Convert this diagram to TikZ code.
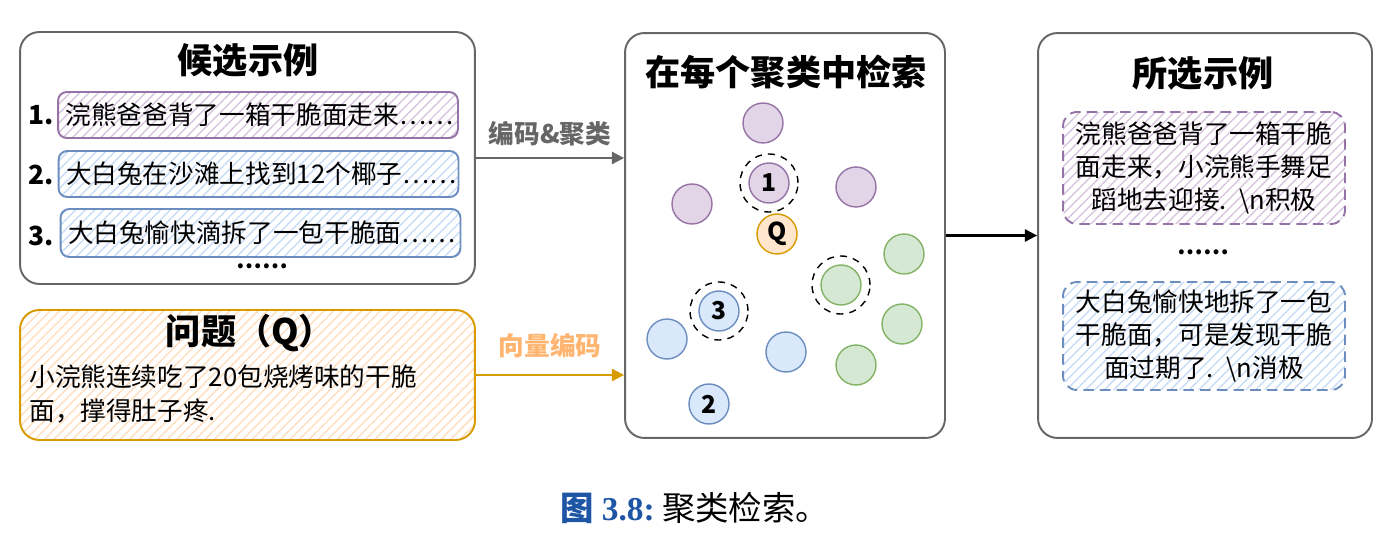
\documentclass[tikz,border=0pt]{standalone}
\usepackage{fontspec}
\setmainfont{Noto Sans CJK SC}
\newfontfamily\capserif{Liberation Serif}
\usepackage{xcolor}
\definecolor{pgray}{RGB}{102,102,102}
\definecolor{ppurple}{RGB}{150,115,166}
\definecolor{fpurple}{RGB}{215,198,223}
\definecolor{pblue}{RGB}{108,142,191}
\definecolor{fblue}{RGB}{200,220,248}
\definecolor{dpurple}{RGB}{225,213,231}
\definecolor{dblue}{RGB}{218,232,252}
\definecolor{pgreen}{RGB}{130,179,102}
\definecolor{fgreen}{RGB}{213,232,212}
\definecolor{porange}{RGB}{215,155,0}
\definecolor{forange}{RGB}{255,222,190}
\definecolor{dorange}{RGB}{255,230,204}
\definecolor{lorange}{RGB}{255,181,112}
\definecolor{capblue}{RGB}{30,85,165}
\usetikzlibrary{arrows.meta, positioning, patterns.meta}

\begin{document}
\begin{tikzpicture}[x=0.02cm, y=-0.02cm,
  panel/.style={draw=pgray, line width=1.1pt, rounded corners=11pt, inner sep=0pt},
  hatch/.style={pattern={Lines[angle=45, distance=3.8pt, line width=0.8pt]}, pattern color=#1},
  itembox/.style={line width=1.1pt, rounded corners=5pt, minimum width=8cm, minimum height=0.92cm,
    text width=7.7cm, align=left, font=\fontsize{14.6}{19}\selectfont, inner sep=0pt},
  selbox/.style={line width=1.1pt, rounded corners=8pt, dash pattern=on 6pt off 3.5pt, minimum width=5.64cm,
    text width=5.4cm, align=center, font=\fontsize{14.6}{19}\selectfont, inner sep=0pt},
  ttl/.style={font=\fontsize{20}{24}\selectfont\bfseries},
  dot/.style={circle, minimum size=0.8cm, inner sep=0pt, line width=0.8pt, font=\fontsize{14}{16}\selectfont\bfseries},
  ring/.style={circle, draw=black, minimum size=1.16cm, dash pattern=on 4pt off 3.5pt, line width=0.8pt},
  link/.style={line width=1.2pt, -{Triangle[length=7pt, width=7pt]}}]
  \useasboundingbox (0,0) rectangle (1388,550);

  % --- Left: candidate examples ---
  \node[panel, minimum width=9.1cm, minimum height=5.04cm] (cand) at (247.5,158) {};
  \node[ttl] (candtitle) at (248,60) {候选示例};
  \node[itembox, draw=ppurple, hatch=fpurple] (ex1) at (258,115) {浣熊爸爸背了一箱干脆面走来……};
  \node[itembox, draw=pblue, hatch=fblue] (ex2) at (258.5,174) {大白兔在沙滩上找到12个椰子……};
  \node[itembox, draw=pblue, hatch=fblue, minimum height=0.96cm] (ex3) at (260.5,233) {大白兔愉快滴拆了一包干脆面……};
  \node[font=\fontsize{15}{18}\selectfont\bfseries] (n1) at (41,115) {1.};
  \node[font=\fontsize{15}{18}\selectfont\bfseries] (n2) at (41,175) {2.};
  \node[font=\fontsize{15}{18}\selectfont\bfseries] (n3) at (41,236) {3.};
  \node[font=\fontsize{13}{14}\selectfont\bfseries, inner sep=0pt] (candmore) at (262,266) {……};

  % --- Left: question ---
  \node[panel, draw=porange, hatch=forange, minimum width=9.1cm, minimum height=2.6cm] (ques) at (247.5,375) {};
  \node[ttl] (questitle) at (250,333) {问题（Q）};
  \node[anchor=west, align=left, inner sep=0pt, font=\fontsize{14.6}{19}\selectfont] (questext) at (29,394)
    {小浣熊连续吃了20包烧烤味的干脆\\面，撑得肚子疼.};

  % --- Middle: search in each cluster ---
  \node[panel, minimum width=6.4cm, minimum height=8.1cm] (mid) at (785,235.5) {};
  \node[ttl] (midtitle) at (786,72) {在每个聚类中检索};
  % purple cluster
  \node[dot, draw=ppurple, fill=dpurple] (p1) at (763,123) {};
  \node[dot, draw=ppurple, fill=dpurple] (p2) at (692,204) {};
  \node[dot, draw=ppurple, fill=dpurple] (p3) at (856,187) {};
  \node[dot, draw=ppurple, fill=dpurple] (c1) at (769,183) {1};
  \node[ring] (r1) at (c1) {};
  % query
  \node[dot, draw=porange, fill=dorange] (q) at (777,234) {Q};
  % green cluster
  \node[dot, draw=pgreen, fill=fgreen] (g1) at (904,254) {};
  \node[dot, draw=pgreen, fill=fgreen] (g2) at (841,285) {};
  \node[ring] (r2) at (g2) {};
  \node[dot, draw=pgreen, fill=fgreen] (g3) at (902,324) {};
  \node[dot, draw=pgreen, fill=fgreen] (g4) at (856,365) {};
  % blue cluster
  \node[dot, draw=pblue, fill=dblue] (c3) at (719,311) {3};
  \node[ring] (r3) at (c3) {};
  \node[dot, draw=pblue, fill=dblue] (b1) at (667,339) {};
  \node[dot, draw=pblue, fill=dblue] (b2) at (786,352) {};
  \node[dot, draw=pblue, fill=dblue] (c2) at (709,404) {2};

  % --- Right: selected examples ---
  \node[panel, minimum width=6.68cm, minimum height=8.1cm] (sel) at (1205,235.5) {};
  \node[ttl] (seltitle) at (1203,73) {所选示例};
  \node[selbox, draw=ppurple, hatch=fpurple, minimum height=2.24cm] (pos) at (1204,168)
    {浣熊爸爸背了一箱干脆\\面走来，小浣熊手舞足\\蹈地去迎接. \textbackslash n积极};
  \node[font=\fontsize{13}{14}\selectfont\bfseries, inner sep=0pt] (selmore) at (1203,252) {……};
  \node[selbox, draw=pblue, hatch=fblue, minimum height=2.16cm] (neg) at (1204,336)
    {大白兔愉快地拆了一包\\干脆面，可是发现干脆\\面过期了. \textbackslash n消极};

  % --- Connectors ---
  \draw[link, pgray] (cand.east) -- (cand.east -| mid.west)
    node[midway, above=3pt, font=\fontsize{14.6}{16}\selectfont\bfseries, text=pgray] (enc) {编码\&聚类};
  \draw[link, porange] (ques.east) -- (ques.east -| mid.west)
    node[midway, above=6pt, font=\fontsize{14.6}{16}\selectfont\bfseries, text=lorange] (vec) {向量编码};
  \draw[link, black] (mid.east) -- (sel.west);

  % caption
  \node[font=\fontsize{19}{22}\selectfont] (cap) at (695,508)
    {\textcolor{capblue}{\bfseries 图\ \capserif 3.8:}\ 聚类检索。};
\end{tikzpicture}
\end{document}
